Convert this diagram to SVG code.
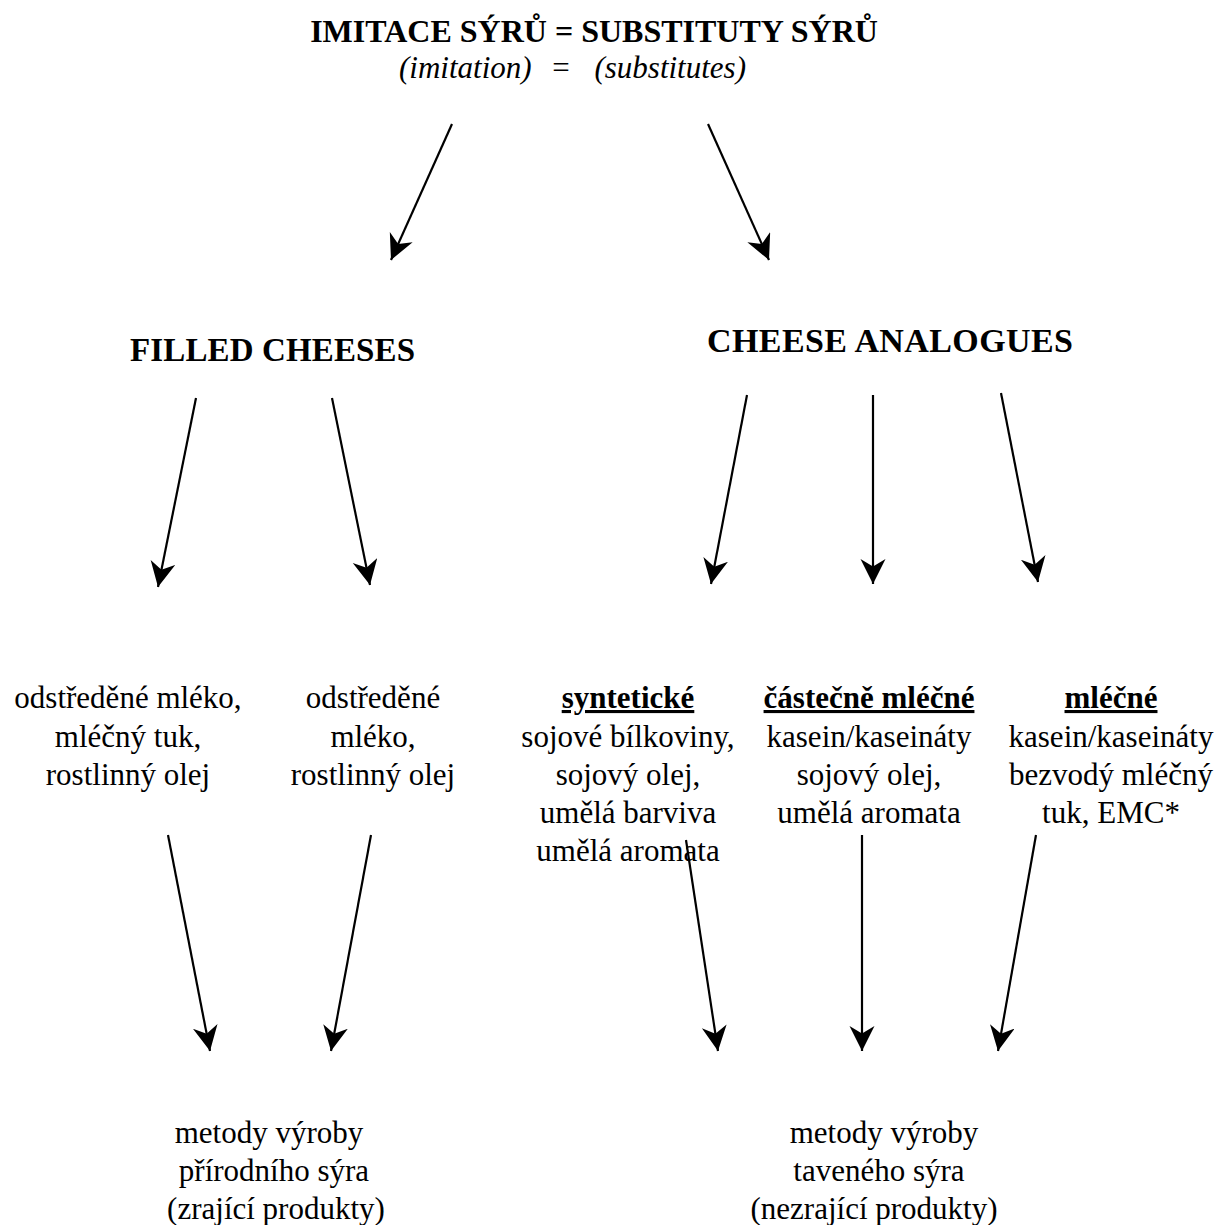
<svg xmlns="http://www.w3.org/2000/svg" width="1228" height="1225" viewBox="0 0 1228 1225">
<defs>
<style>
text{font-family:"Liberation Serif","Times New Roman",serif;fill:#000;text-anchor:middle}
.h{font-weight:bold;font-size:32px}
.t{font-size:31px}
.s{font-style:italic;font-size:31px}
.u{font-weight:bold;font-size:31px;text-decoration:underline}
.c line{stroke:#000;stroke-width:2.2;marker-end:url(#ah)}
</style>
<marker id="ah" markerUnits="userSpaceOnUse" markerWidth="26" markerHeight="26" refX="25" refY="12.5" orient="auto" viewBox="0 0 26 26">
<path d="M0,0 L25,12.5 L0,25 L7.5,12.5 Z" fill="#000"/>
</marker>
</defs>
<rect width="1228" height="1225" fill="#fff"/>
<g id="title">
<text class="h" x="594" y="42">IMITACE SÝRŮ = SUBSTITUTY SÝRŮ</text>
<text class="s" x="399" y="78" style="text-anchor:start">(imitation)</text>
<text class="s" x="561" y="78" style="font-style:normal">=</text>
<text class="s" x="746" y="78" style="text-anchor:end">(substitutes)</text>
</g>
<g id="filled">
<text class="h" x="272.5" y="361" style="font-size:33px" textLength="285">FILLED CHEESES</text>
</g>
<g id="analogues">
<text class="h" x="890" y="352" style="font-size:34px" textLength="366">CHEESE ANALOGUES</text>
</g>
<g id="f1">
<text class="t" x="128" y="708">odstředěné mléko,</text>
<text class="t" x="128" y="747">mléčný tuk,</text>
<text class="t" x="128" y="785">rostlinný olej</text>
</g>
<g id="f2">
<text class="t" x="373" y="708">odstředěné</text>
<text class="t" x="373" y="747">mléko,</text>
<text class="t" x="373" y="785">rostlinný olej</text>
</g>
<g id="a1">
<text class="u" x="628" y="708">syntetické</text>
<text class="t" x="628" y="747">sojové bílkoviny,</text>
<text class="t" x="628" y="785">sojový olej,</text>
<text class="t" x="628" y="823">umělá barviva</text>
<text class="t" x="628" y="861">umělá aromata</text>
</g>
<g id="a2">
<text class="u" x="869" y="708">částečně mléčné</text>
<text class="t" x="869" y="747">kasein/kaseináty</text>
<text class="t" x="869" y="785">sojový olej,</text>
<text class="t" x="869" y="823">umělá aromata</text>
</g>
<g id="a3">
<text class="u" x="1111" y="708">mléčné</text>
<text class="t" x="1111" y="747">kasein/kaseináty</text>
<text class="t" x="1111" y="785">bezvodý mléčný</text>
<text class="t" x="1111" y="823">tuk, EMC*</text>
</g>
<g id="natural">
<text class="t" x="269" y="1143">metody výroby</text>
<text class="t" x="274" y="1181">přírodního sýra</text>
<text class="t" x="276" y="1219">(zrající produkty)</text>
</g>
<g id="processed">
<text class="t" x="884" y="1143">metody výroby</text>
<text class="t" x="879" y="1181">taveného sýra</text>
<text class="t" x="874" y="1219">(nezrající produkty)</text>
</g>
<g id="connectors" class="c">
<line x1="452" y1="124" x2="391" y2="260"/>
<line x1="708" y1="124" x2="769" y2="260"/>
<line x1="196" y1="398" x2="158" y2="587"/>
<line x1="332" y1="398" x2="370" y2="585"/>
<line x1="747" y1="395" x2="711" y2="584"/>
<line x1="873" y1="395" x2="873" y2="584"/>
<line x1="1001" y1="393" x2="1038" y2="582"/>
<line x1="168" y1="835" x2="210" y2="1051"/>
<line x1="371" y1="835" x2="331" y2="1051"/>
<line x1="686" y1="840" x2="718" y2="1051"/>
<line x1="862" y1="835" x2="862" y2="1051"/>
<line x1="1036" y1="835" x2="998" y2="1051"/>
</g>
</svg>
